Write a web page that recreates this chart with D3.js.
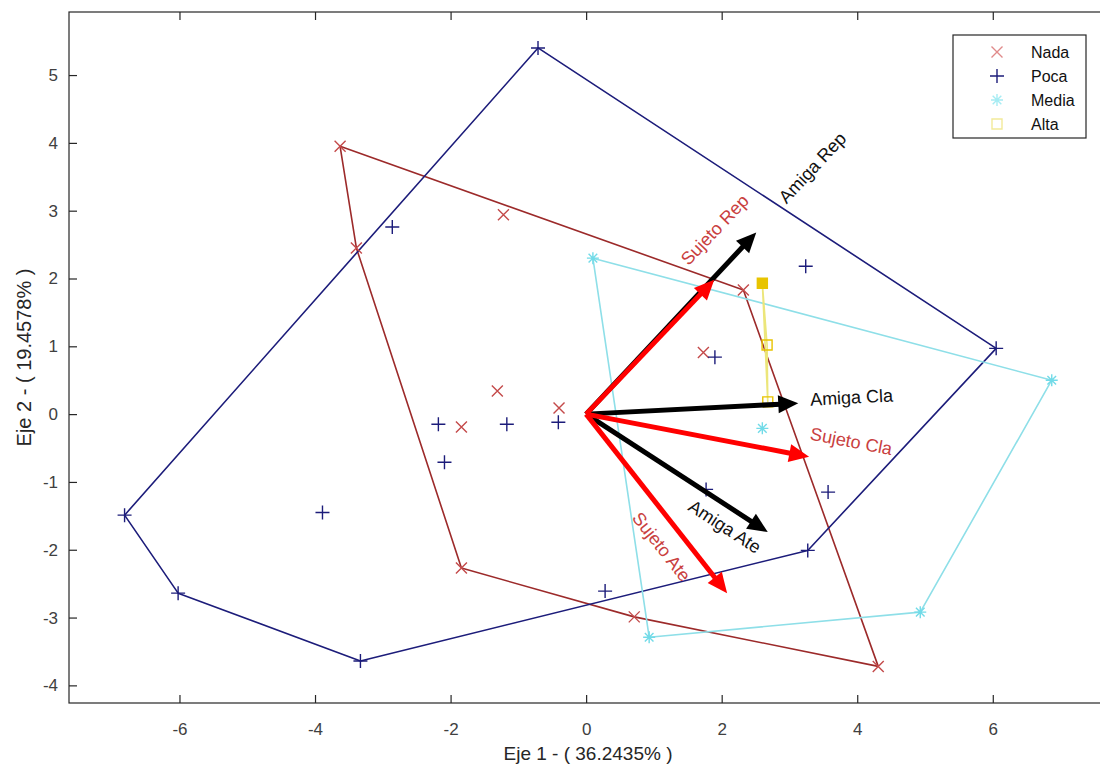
<!DOCTYPE html>
<html>
<head>
<meta charset="utf-8">
<script src="https://cdn.jsdelivr.net/npm/d3@7"></script>
<style>
  html, body { margin: 0; padding: 0; background: #ffffff; }
  svg { display: block; font-family: "Liberation Sans", Arial, sans-serif; }
</style>
</head>
<body>
<svg id="chart" width="1100" height="770"></svg>
<script>
// ---------------- DATA ----------------
const groupNames = ["Nada", "Poca", "Media", "Alta"];

const nadaX = [-3.63, -1.22, -3.39, -1.31, -1.84, -0.40, 1.73, 2.32, -1.84, 0.71, 4.31];
const nadaY = [3.95, 2.94, 2.45, 0.34, -0.19, 0.09, 0.91, 1.83, -2.27, -2.99, -3.72];

const pocaX = [-0.71, -2.86, -6.81, -6.02, -3.33, -3.89, -2.18, -2.09, -1.17, -0.41, 1.90, 3.24, 6.05, 3.57, 1.77, 3.27, 0.28];
const pocaY = [5.40, 2.76, -1.49, -2.64, -3.64, -1.45, -0.15, -0.71, -0.15, -0.12, 0.84, 2.18, 0.97, -1.15, -1.11, -2.01, -2.61];

const mediaX = [0.10, 6.87, 4.93, 0.93, 2.60];
const mediaY = [2.30, 0.50, -2.92, -3.29, -0.21];

const altaX = [2.60, 2.67, 2.68];
const altaY = [1.93, 1.02, 0.18];

const arrowNames = ["Amiga Rep", "Amiga Cla", "Amiga Ate", "Sujeto Rep", "Sujeto Cla", "Sujeto Ate"];
const arrowX = [2.51, 3.13, 2.68, 1.89, 3.29, 2.08];
const arrowY = [2.68, 0.16, -1.74, 1.98, -0.63, -2.64];

const xTicks = [-6, -4, -2, 0, 2, 4, 6];
const yTicks = [-4, -3, -2, -1, 0, 1, 2, 3, 4, 5];
const xLabel = "Eje 1 - ( 36.2435% )";
const yLabel = "Eje 2 - ( 19.4578% )";

// ---------------- LAYOUT / STYLE ----------------
const svg = d3.select("#chart");
const L = 69, R = 1108, T = 12, B = 703;
const x = d3.scaleLinear().domain([-7.63, 7.70]).range([L, R]);
const y = d3.scaleLinear().domain([-4.26, 5.93]).range([B, T]);

const style = {
  Nada:  { marker: "#c44a4a", hull: "#9c2a2a", legend: "#e08a8a", shape: "x" },
  Poca:  { marker: "#1c1c7a", hull: "#1c1c7a", legend: "#1c1c7a", shape: "plus" },
  Media: { marker: "#72dbe8", hull: "#8edfe8", legend: "#a6ecf3", shape: "star" },
  Alta:  { marker: "#e8c400", hull: "#ece67a", legend: "#f2ea9a", shape: "square" }
};

svg.append("rect").attr("width", 1100).attr("height", 770).attr("fill", "#fff");

const groups = [
  { name: "Nada",  xs: nadaX,  ys: nadaY },
  { name: "Poca",  xs: pocaX,  ys: pocaY },
  { name: "Media", xs: mediaX, ys: mediaY },
  { name: "Alta",  xs: altaX,  ys: altaY }
];

function markerPath(shape, s) {
  if (shape === "x") return `M${-s},${-s}L${s},${s}M${-s},${s}L${s},${-s}`;
  if (shape === "plus") return `M${-s},0L${s},0M0,${-s}L0,${s}`;
  if (shape === "star") {
    const d = s * 0.72;
    return `M${-s},0L${s},0M0,${-s}L0,${s}M${-d},${-d}L${d},${d}M${-d},${d}L${d},${-d}`;
  }
  return `M${-s},${-s}H${s}V${s}H${-s}Z`;
}
const markerSize = { x: 5.5, plus: 7, star: 6, square: 5 };

const plot = svg.append("g");

// hulls
groups.forEach(g => {
  const pts = g.xs.map((v, i) => [x(v), y(g.ys[i])]);
  const hull = d3.polygonHull(pts);
  plot.append("path")
    .attr("d", "M" + hull.join("L") + "Z")
    .attr("fill", "none")
    .attr("stroke", style[g.name].hull)
    .attr("stroke-width", 1.6)
    .attr("stroke-linejoin", "round");
});

// markers
groups.forEach(g => {
  const st = style[g.name];
  plot.append("g").selectAll("path")
    .data(g.xs.map((v, i) => ({ x: v, y: g.ys[i], i })))
    .join("path")
    .attr("transform", d => `translate(${x(d.x)},${y(d.y)})`)
    .attr("d", markerPath(st.shape, markerSize[st.shape]))
    .attr("fill", d => (st.shape === "square" && d.i === 0) ? st.marker : "none")
    .attr("stroke", st.marker)
    .attr("stroke-width", 1.4);
});

// arrows (black drawn first, red on top)
const ox = x(0), oy = y(0);
const headLen = 20, headHalf = 9;
const labelRules = {
  "Sujeto Rep": { along: -8, perp: 28, anchor: "start", baseline: "alphabetic" },
  "Amiga Rep":  { along: 41, perp: -3, anchor: "start", baseline: "alphabetic" },
  "Amiga Cla":  { along: 12, perp: -3, anchor: "start", baseline: "alphabetic" },
  "Sujeto Cla": { along: -3, perp: 17, anchor: "start", baseline: "alphabetic" },
  "Amiga Ate":  { along: -39, perp: -19, anchor: "middle", baseline: "central" },
  "Sujeto Ate": { along: -77, perp: -23, anchor: "middle", baseline: "central" }
};
const arrowsG = svg.append("g");
arrowNames.forEach((name, i) => {
  const tx = x(arrowX[i]), ty = y(arrowY[i]);
  const dx = tx - ox, dy = ty - oy, len = Math.hypot(dx, dy);
  const ux = dx / len, uy = dy / len;
  const color = name.startsWith("Sujeto") ? "#ff0000" : "#000000";
  const bx = tx - ux * headLen, by = ty - uy * headLen;
  arrowsG.append("line")
    .attr("x1", ox).attr("y1", oy).attr("x2", bx + ux * 2).attr("y2", by + uy * 2)
    .attr("stroke", color).attr("stroke-width", 5);
  arrowsG.append("path")
    .attr("d", `M${tx},${ty}L${bx - uy * headHalf},${by + ux * headHalf}L${bx + uy * headHalf},${by - ux * headHalf}Z`)
    .attr("fill", color);
});
arrowNames.forEach((name, i) => {
  const tx = x(arrowX[i]), ty = y(arrowY[i]);
  const dx = tx - ox, dy = ty - oy, len = Math.hypot(dx, dy);
  const ux = dx / len, uy = dy / len;
  const a = Math.atan2(dy, dx) * 180 / Math.PI;
  const nx = uy, ny = -ux; // text "up" vector
  const r = labelRules[name];
  const px = tx + r.along * ux + r.perp * nx, py = ty + r.along * uy + r.perp * ny;
  arrowsG.append("text")
    .attr("transform", `translate(${px},${py}) rotate(${a})`)
    .attr("text-anchor", r.anchor)
    .attr("dominant-baseline", r.baseline)
    .attr("font-size", 18)
    .attr("fill", name.startsWith("Sujeto") ? "#c94040" : "#111")
    .text(name);
});

// axes frame and ticks
const axisColor = "#262626";
const ax = svg.append("g");
ax.append("rect").attr("x", L).attr("y", T).attr("width", R - L).attr("height", B - T)
  .attr("fill", "none").attr("stroke", axisColor).attr("stroke-width", 1.2);

const fmt = d => String(d);
const xb = ax.append("g").attr("transform", `translate(0,${B})`)
  .call(d3.axisBottom(x).tickValues(xTicks).tickSize(-8).tickPadding(20).tickFormat(fmt));
const xt = ax.append("g").attr("transform", `translate(0,${T})`)
  .call(d3.axisTop(x).tickValues(xTicks).tickSize(-8).tickFormat(""));
const yl = ax.append("g").attr("transform", `translate(${L},0)`)
  .call(d3.axisLeft(y).tickValues(yTicks).tickSize(-8).tickPadding(11).tickFormat(fmt));
const yr = ax.append("g").attr("transform", `translate(${R},0)`)
  .call(d3.axisRight(y).tickValues(yTicks).tickSize(-8).tickFormat(""));
[xb, xt, yl, yr].forEach(g => {
  g.select(".domain").remove();
  g.selectAll(".tick line").attr("stroke", axisColor).attr("stroke-width", 1.2);
  g.selectAll(".tick text").attr("fill", "#404040").attr("font-size", 17)
    .attr("font-family", "'Liberation Sans', Arial, sans-serif");
});

svg.append("text").attr("x", 588).attr("y", 760).attr("text-anchor", "middle")
  .attr("font-size", 19).attr("fill", "#262626").text(xLabel);
svg.append("text").attr("transform", `translate(31,${(T + B) / 2}) rotate(-90)`)
  .attr("text-anchor", "middle").attr("font-size", 20).attr("fill", "#262626").text(yLabel);

// legend
const lg = svg.append("g");
lg.append("rect").attr("x", 953).attr("y", 35).attr("width", 133).attr("height", 103)
  .attr("fill", "#fff").attr("stroke", axisColor).attr("stroke-width", 1.2);
groupNames.forEach((name, i) => {
  const cy = 52 + i * 24;
  const st = style[name];
  lg.append("path").attr("transform", `translate(997,${cy})`)
    .attr("d", markerPath(st.shape, markerSize[st.shape]))
    .attr("fill", "none").attr("stroke", st.legend).attr("stroke-width", 1.4);
  lg.append("text").attr("x", 1031).attr("y", cy).attr("dominant-baseline", "central")
    .attr("font-size", 16).attr("fill", "#111").text(name);
});
</script>
</body>
</html>
